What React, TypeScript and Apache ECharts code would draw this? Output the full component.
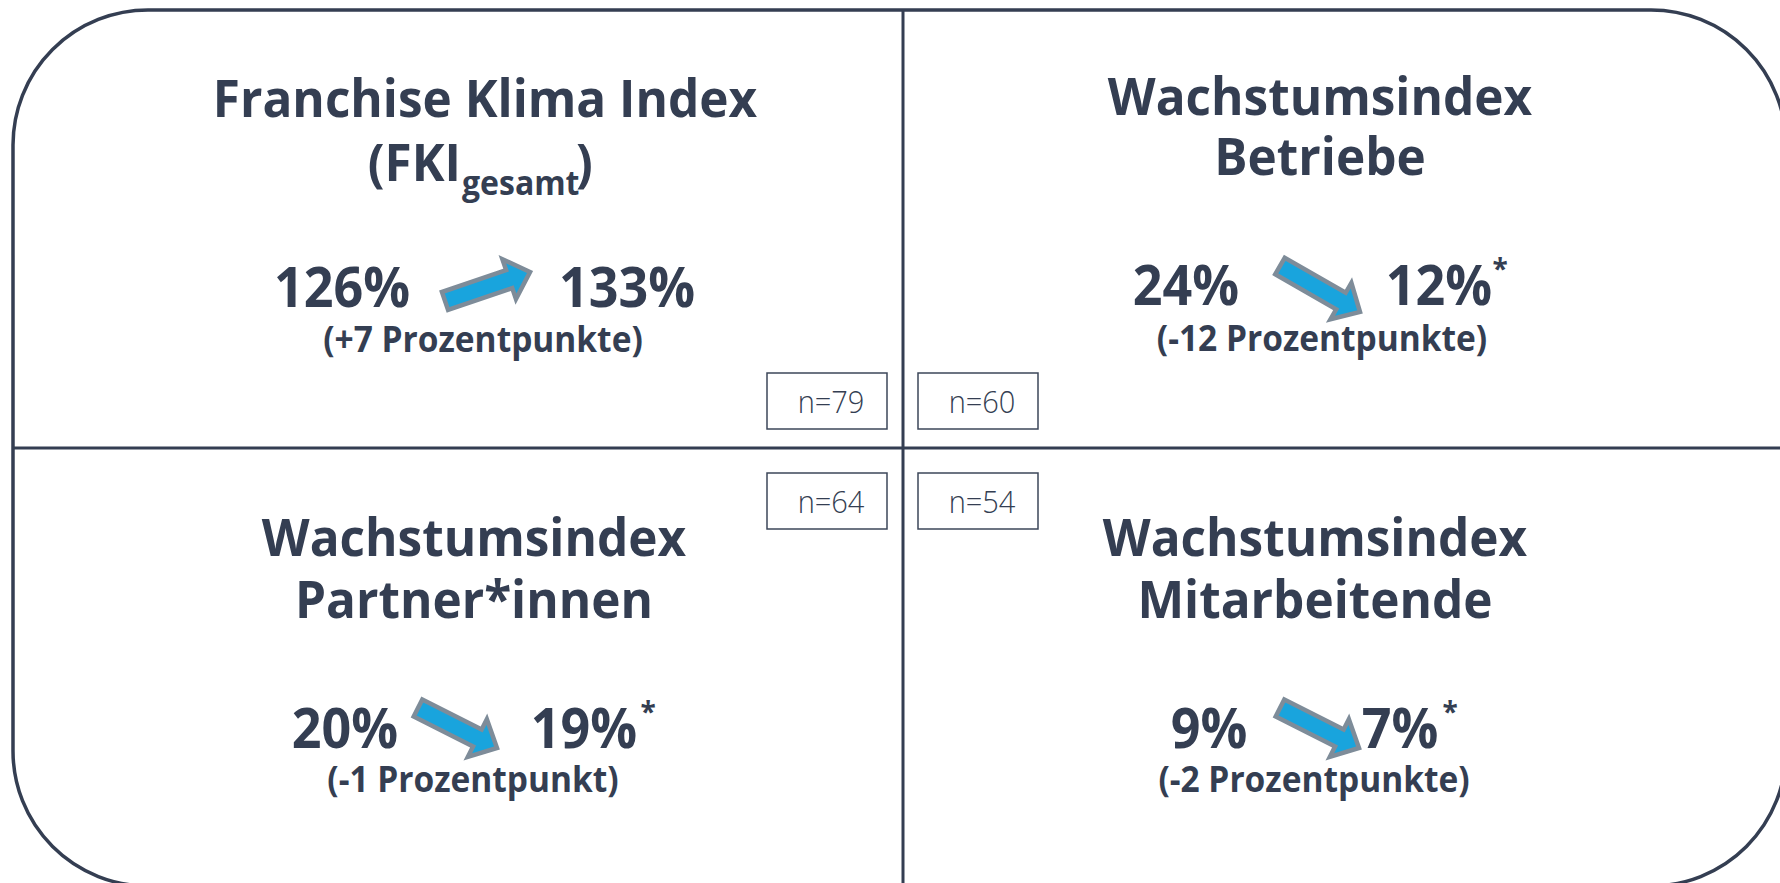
import React, { useEffect, useRef } from "react";
import * as echarts from "echarts";

// ---------- data ----------
const titleFirstLines = ["Franchise Klima Index", "Wachstumsindex", "Wachstumsindex", "Wachstumsindex"];
const titleSecondLines = ["(FKI", "Betriebe", "Partner*innen", "Mitarbeitende"];
const titleSubscripts = ["gesamt", "", "", ""];
const previousValues = [126, 24, 20, 9];
const currentValues = [133, 12, 19, 7];
const significanceMarks = ["", "*", "*", "*"];
const sampleSizes = [79, 60, 64, 54];

// ---------- style / layout ----------
const INK = "#343e52";
const ARROW_FILL = "#19a4dd";
const ARROW_EDGE = "#7e8c99";
const FONT = '"Open Sans", "Noto Sans", sans-serif';

type PanelLayout = {
  cx: number;
  t1: number;
  t2: number;
  num: number;
  prevX: number;
  nextX: number;
  star: [number, number] | null;
  tail: [number, number];
  tip: [number, number];
  subX: number;
  subY: number;
  box: [number, number];
};

const layout: PanelLayout[] = [
  { cx: 485, t1: 96, t2: 160, num: 286, prevX: 342, nextX: 627, star: null, tail: [445, 301], tip: [530, 272], subX: 483, subY: 338, box: [767, 373] },
  { cx: 1320, t1: 94, t2: 154, num: 284, prevX: 1186, nextX: 1439, star: [1500, 268], tail: [1280, 266], tip: [1360, 312], subX: 1322, subY: 337, box: [918, 373] },
  { cx: 474, t1: 535, t2: 597, num: 727, prevX: 345, nextX: 584, star: [648, 711], tail: [418, 708], tip: [497, 748], subX: 473, subY: 778, box: [767, 473] },
  { cx: 1315, t1: 535, t2: 597, num: 727, prevX: 1209, nextX: 1400, star: [1450, 711], tail: [1280, 708], tip: [1359, 748], subX: 1314, subY: 778, box: [918, 473] },
];

function changeLabel(prev: number, cur: number): string {
  const d = cur - prev;
  const sign = d > 0 ? "+" : "";
  return `(${sign}${d} Prozentpunkt${Math.abs(d) === 1 ? "" : "e"})`;
}

function arrowPoints(tail: [number, number], tip: [number, number]) {
  const shaftW = 19;
  const headW = 42;
  const headL = 22;
  const dx = tip[0] - tail[0];
  const dy = tip[1] - tail[1];
  const len = Math.hypot(dx, dy);
  const ux = dx / len;
  const uy = dy / len;
  const px = -uy;
  const py = ux;
  const bx = tip[0] - ux * headL;
  const by = tip[1] - uy * headL;
  const p = (x: number, y: number, k: number) => [x + px * k, y + py * k];
  return [
    p(tail[0], tail[1], shaftW / 2),
    p(bx, by, shaftW / 2),
    p(bx, by, headW / 2),
    [tip[0], tip[1]],
    p(bx, by, -headW / 2),
    p(bx, by, -shaftW / 2),
    p(tail[0], tail[1], -shaftW / 2),
  ];
}

function txt(
  text: string,
  x: number,
  y: number,
  size: number,
  weight: number,
  align: string = "center",
  scaleY: number = 1.06,
  z: number = 10
) {
  return {
    type: "text",
    x,
    y,
    scaleY,
    z,
    style: {
      text,
      font: `${weight} ${size}px ${FONT}`,
      fill: INK,
      textAlign: align,
      align,
      textVerticalAlign: "middle",
      verticalAlign: "middle",
    },
  };
}

function buildGraphics() {
  const els: any[] = [];
  // outer rounded frame
  els.push({
    type: "rect",
    z: 1,
    shape: { x: 13, y: 10, width: 1773, height: 876, r: 135 },
    style: { fill: "#ffffff", stroke: INK, lineWidth: 3.5 },
  });
  // dividers
  els.push({
    type: "line",
    z: 2,
    shape: { x1: 903, y1: 10, x2: 903, y2: 886 },
    style: { stroke: INK, lineWidth: 3 },
  });
  els.push({
    type: "line",
    z: 2,
    shape: { x1: 13, y1: 448, x2: 1786, y2: 448 },
    style: { stroke: INK, lineWidth: 3 },
  });

  layout.forEach((L, i) => {
    // titles
    if (titleSubscripts[i]) {
      els.push(txt(titleFirstLines[i], L.cx, L.t1, 49.5, 700));
      els.push(txt(titleSecondLines[i], 461, L.t2, 49.5, 700, "right"));
      els.push(txt(titleSubscripts[i], 462, L.t2 + 22, 32, 700, "left"));
      els.push(txt(")", 576, L.t2, 49.5, 700, "left"));
    } else {
      els.push(txt(titleFirstLines[i], L.cx, L.t1, 49.5, 700));
      els.push(txt(titleSecondLines[i], L.cx, L.t2, 49.5, 700));
    }
    // values
    els.push(txt(`${previousValues[i]}%`, L.prevX, L.num, 52, 700));
    els.push(txt(`${currentValues[i]}%`, L.nextX, L.num, 52, 700));
    if (significanceMarks[i] && L.star) {
      els.push(txt(significanceMarks[i], L.star[0], L.star[1], 28, 700, "center", 1));
    }
    // arrow
    els.push({
      type: "polygon",
      z: 8,
      shape: { points: arrowPoints(L.tail, L.tip) },
      style: { fill: ARROW_FILL, stroke: ARROW_EDGE, lineWidth: 4.5, lineJoin: "miter" },
    });
    // change label
    els.push(txt(changeLabel(previousValues[i], currentValues[i]), L.subX, L.subY, 33.5, 700));
    // sample size box
    els.push({
      type: "rect",
      z: 5,
      shape: { x: L.box[0], y: L.box[1], width: 120, height: 56 },
      style: { fill: "#ffffff", stroke: "#3d4759", lineWidth: 1.5 },
    });
    els.push(txt(`n=${sampleSizes[i]}`, L.box[0] + 64, L.box[1] + 28, 29, 300, "center", 1.05, 6));
  });
  return els;
}

export default function App() {
  const ref = useRef<HTMLDivElement>(null);
  useEffect(() => {
    if (!ref.current) return;
    const chart = echarts.init(ref.current, undefined, { renderer: "svg" });
    chart.setOption({
      animation: false,
      backgroundColor: "#ffffff",
      graphic: { elements: buildGraphics() },
    });
    return () => chart.dispose();
  }, []);
  return (
    <div
      ref={ref}
      style={{ position: "fixed", left: 0, top: 0, width: 1780, height: 883, background: "#ffffff" }}
    />
  );
}
